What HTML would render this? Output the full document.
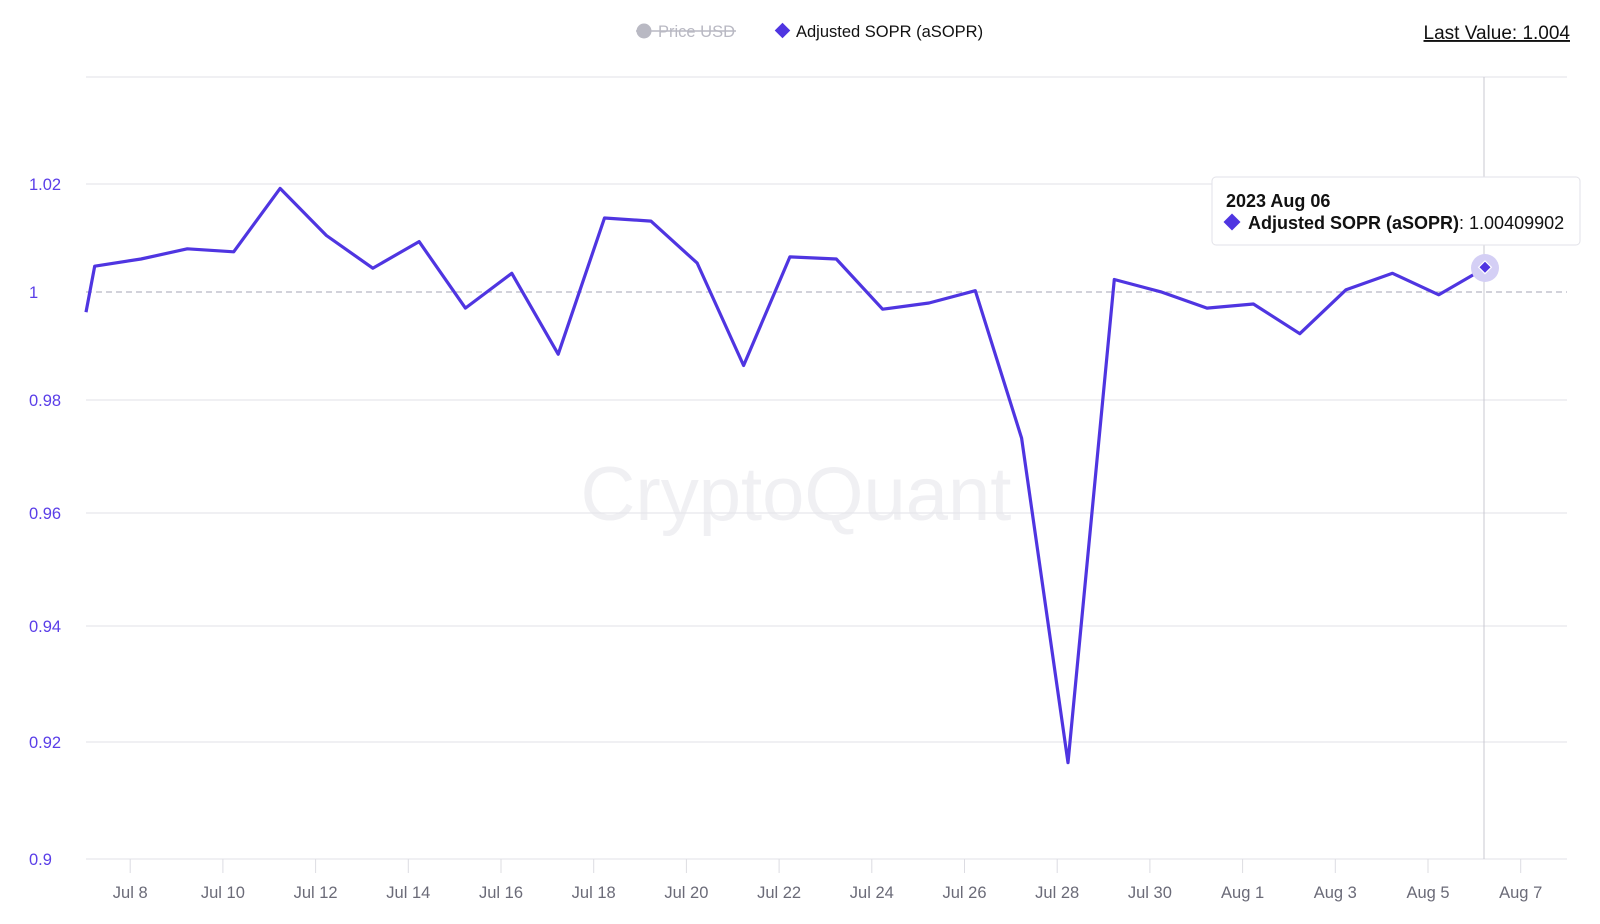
<!DOCTYPE html>
<html><head><meta charset="utf-8"><style>
html,body{margin:0;padding:0;background:#fff;}
body{width:1600px;height:919px;overflow:hidden;font-family:"Liberation Sans",sans-serif;}
</style></head><body>
<svg id="s" width="1600" height="919" xmlns="http://www.w3.org/2000/svg" font-family="Liberation Sans, sans-serif">
<text x="796" y="520" font-size="76" fill="#f0f0f3" text-anchor="middle">CryptoQuant</text>
<g id="grid"></g>
<line x1="1484" y1="77" x2="1484" y2="859" stroke="#c8c8d0" stroke-width="1"/>
<polyline id="ln" fill="none" stroke="#4f35e1" stroke-width="3.2" stroke-linejoin="round"/>
<circle cx="1485" cy="268" r="14" fill="#d4cff5"/>
<rect x="1480" y="263" width="9" height="9" fill="#4f35e1" stroke="#fff" stroke-width="1.2" transform="rotate(45 1485 268)"/>
<g>
<rect x="1212" y="177" width="368" height="68" rx="4" fill="#fff" stroke="#e2e2e8"/>
<text x="1226" y="207" font-size="18" font-weight="bold" fill="#111">2023 Aug 06</text>
<rect x="1226" y="216" width="12" height="12" fill="#4f35e1" transform="rotate(45 1232 222)"/>
<text x="1248" y="229" font-size="18" fill="#111"><tspan font-weight="bold">Adjusted SOPR (aSOPR)</tspan>: 1.00409902</text>
</g>
<circle cx="644" cy="31" r="7.5" fill="#b9b9c3"/>
<text x="658" y="37" font-size="16.5" fill="#b9b9c3">Price USD</text>
<line x1="636" y1="31" x2="736" y2="31" stroke="#b9b9c3" stroke-width="1.5"/>
<rect x="777" y="25" width="11" height="11" fill="#4f35e1" transform="rotate(45 782.5 30.5)"/>
<text x="796" y="37" font-size="16.5" fill="#111">Adjusted SOPR (aSOPR)</text>
<text x="1570" y="39" font-size="19" fill="#111" text-anchor="end" text-decoration="underline">Last Value: 1.004</text>
</svg>
<script>
var g=document.getElementById('grid'),ns="http://www.w3.org/2000/svg";
function el(t,a,tx){var e=document.createElementNS(ns,t);for(var k in a)e.setAttribute(k,a[k]);if(tx)e.textContent=tx;g.appendChild(e);}
el('line',{x1:86,y1:77,x2:1567,y2:77,stroke:'#e6e6ec','stroke-width':1.3});
var ys=[[1.02,184],[0.98,400],[0.96,513],[0.94,626],[0.92,742],[0.9,859]];
ys.forEach(function(p){el('line',{x1:86,y1:p[1],x2:1567,y2:p[1],stroke:'#e6e6ec','stroke-width':1.3});
el('text',{x:29,y:p[1]+6,'font-size':16.5,fill:'#5a3ee8'},String(p[0]));});
el('line',{x1:86,y1:292,x2:1567,y2:292,stroke:'#b8b8c4','stroke-width':1.2,'stroke-dasharray':'6,4'});
el('text',{x:29,y:298,'font-size':16.5,fill:'#5a3ee8'},'1');
var lab=['Jul 8','Jul 10','Jul 12','Jul 14','Jul 16','Jul 18','Jul 20','Jul 22','Jul 24','Jul 26','Jul 28','Jul 30','Aug 1','Aug 3','Aug 5','Aug 7'];
lab.forEach(function(l,i){var x=130.2+i*2*46.35;
el('line',{x1:x,y1:859,x2:x,y2:873,stroke:'#dcdce2','stroke-width':1});
el('text',{x:x,y:898,'font-size':16.5,fill:'#6b6b78','text-anchor':'middle'},l);});
var v=[260,253,243,246,184,230,262,236,301,267,346,213,216,257,357,251,253,302,296,284,428,745,273,285,301,297,326,283,267,288,262];
var pts=["86,"+(305*1.0237).toFixed(1)];
v.forEach(function(y,i){var x=141+46.35*(i-1);pts.push(x.toFixed(1)+","+(y*1.0237).toFixed(1));});
pts[pts.length-1]="1485,268";
document.getElementById('ln').setAttribute('points',pts.join(' '));
</script>
</body></html>
